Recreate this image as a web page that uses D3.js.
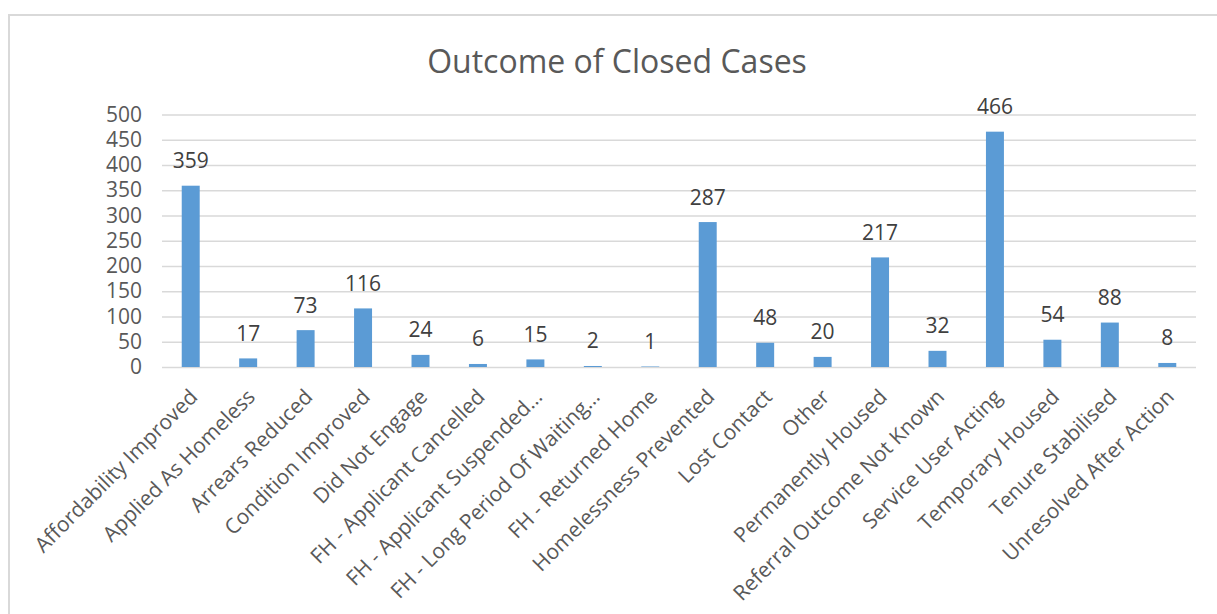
<!DOCTYPE html>
<html>
<head>
<meta charset="utf-8">
<script src="https://cdn.jsdelivr.net/npm/d3@7"></script>
<style>
  body { margin: 0; background: #fff; }
  svg { display: block; font-family: "Open Sans", sans-serif; }
</style>
</head>
<body>
<svg></svg>
<script>
// chart data
var categories = [
  'Affordability Improved', 'Applied As Homeless', 'Arrears Reduced',
  'Condition Improved', 'Did Not Engage', 'FH - Applicant Cancelled',
  'FH - Applicant Suspended…', 'FH - Long Period Of Waiting…', 'FH - Returned Home',
  'Homelessness Prevented', 'Lost Contact', 'Other', 'Permanently Housed',
  'Referral Outcome Not Known', 'Service User Acting', 'Temporary Housed',
  'Tenure Stabilised', 'Unresolved After Action'
];
var counts = [359, 17, 73, 116, 24, 6, 15, 2, 1, 287, 48, 20, 217, 32, 466, 54, 88, 8];
var yTicks = [0, 50, 100, 150, 200, 250, 300, 350, 400, 450, 500];

var width = 1217;
var height = 614;
var plotLeft = 162, plotRight = 1196, plotTop = 114.5, plotBottom = 367;

var svg = d3.select('svg')
    .attr('width', width)
    .attr('height', height);

// chart border
svg.append('rect')
    .attr('x', 9)
    .attr('y', 15)
    .attr('width', 1300)
    .attr('height', 700)
    .attr('fill', '#fff')
    .attr('stroke', '#d9d9d9')
    .attr('stroke-width', 2);

var xScale = d3.scaleBand()
    .domain(categories)
    .range([plotLeft, plotRight])
    .paddingInner(0.687)
    .paddingOuter(0.3435);

var yScale = d3.scaleLinear()
    .domain([0, 500])
    .range([plotBottom, plotTop]);

// gridlines + tick labels
var yAxis = d3.axisLeft(yScale)
    .tickValues(yTicks)
    .tickSize(-(plotRight - plotLeft))
    .tickPadding(20);

var gy = svg.append('g')
    .attr('transform', 'translate(' + plotLeft + ',0)')
    .call(yAxis);

gy.select('.domain').remove();
gy.selectAll('line')
    .attr('stroke', '#d9d9d9')
    .attr('stroke-width', 1.3);
gy.selectAll('text')
    .attr('fill', '#595959')
    .style('font-size', '21px')
    .style('font-family', '"Open Sans", sans-serif');

// bars
svg.selectAll('rect.bar')
  .data(counts)
  .enter()
  .append('rect')
    .attr('class', 'bar')
    .attr('x', (d, i) => xScale(categories[i]))
    .attr('y', d => yScale(d))
    .attr('width', xScale.bandwidth())
    .attr('height', d => plotBottom - yScale(d))
    .attr('fill', '#5b9bd5');

// value labels
svg.selectAll('text.value')
  .data(counts)
  .enter()
  .append('text')
    .attr('class', 'value')
    .attr('x', (d, i) => xScale(categories[i]) + xScale.bandwidth() / 2)
    .attr('y', d => yScale(d) - 17.5)
    .style('text-anchor', 'middle')
    .style('font-size', '21px')
    .attr('fill', '#404040')
    .text(d => d);

// category labels
svg.selectAll('text.cat')
  .data(categories)
  .enter()
  .append('text')
    .attr('class', 'cat')
    .attr('transform', d => 'translate(' + (xScale(d) + xScale.bandwidth() / 2 + 3) + ',393) rotate(-45)')
    .attr('dy', '0.35em')
    .style('text-anchor', 'end')
    .style('font-size', '21px')
    .attr('fill', '#595959')
    .text(d => d);

// title
svg.append('text')
    .attr('x', 617)
    .attr('y', 73)
    .style('text-anchor', 'middle')
    .style('font-size', '32px')
    .attr('fill', '#595959')
    .text('Outcome of Closed Cases');
</script>
</body>
</html>
